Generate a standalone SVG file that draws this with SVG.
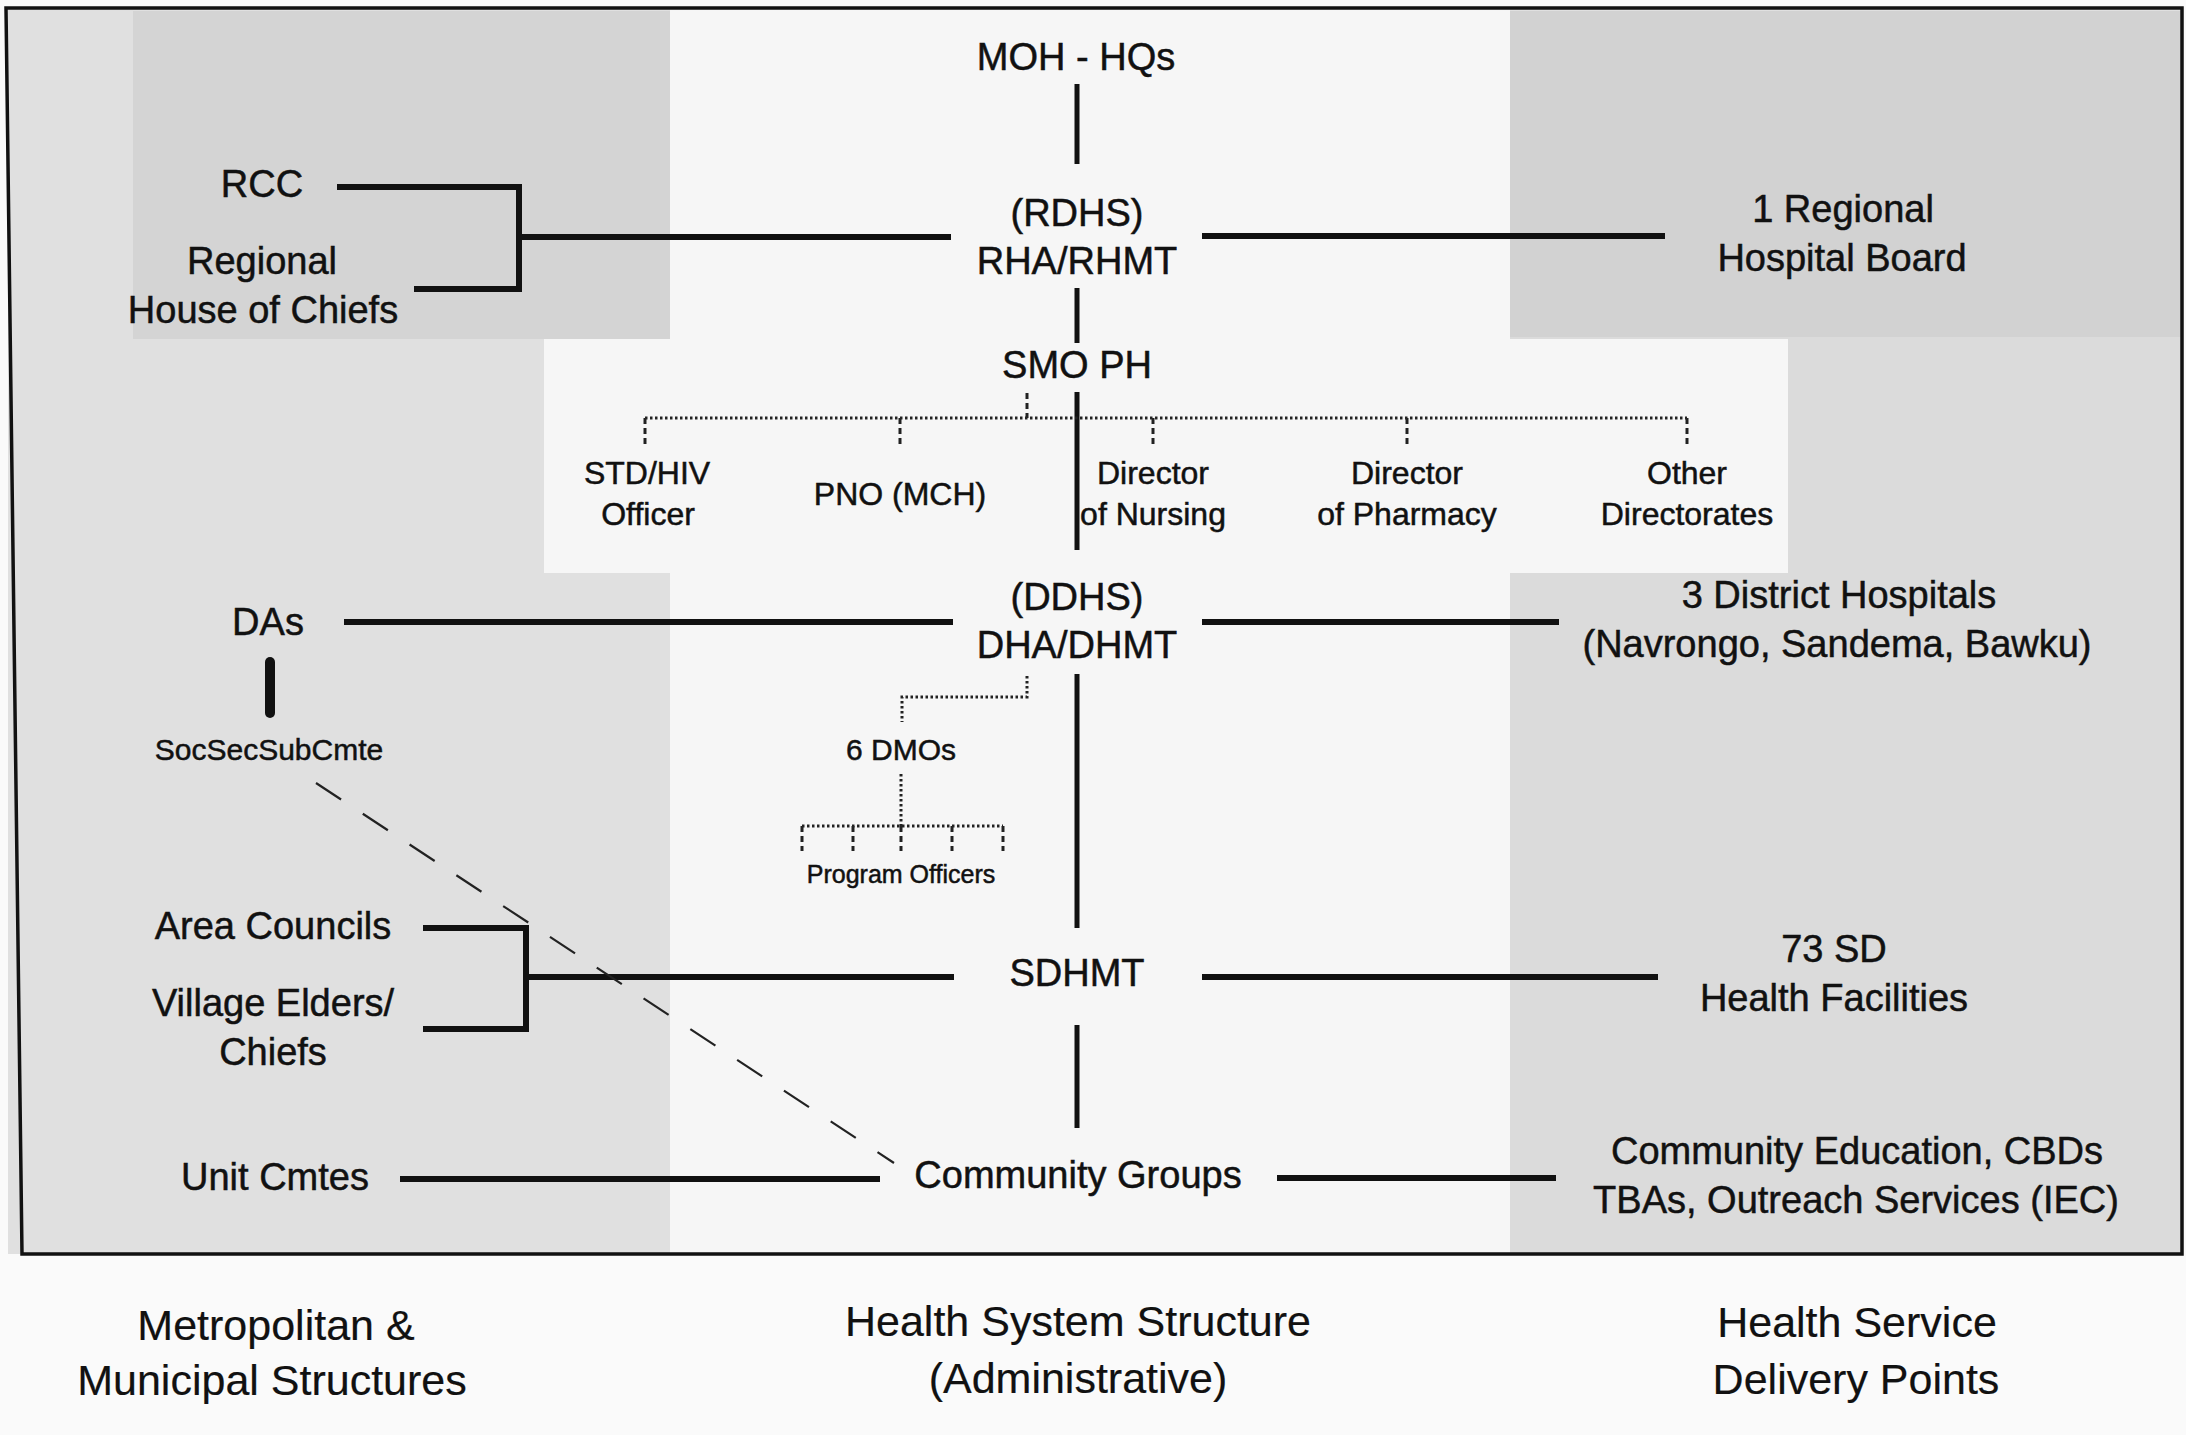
<svg xmlns="http://www.w3.org/2000/svg" width="2186" height="1435" viewBox="0 0 2186 1435">
<style>
  text{font-family:"Liberation Sans",Arial,Helvetica,sans-serif;fill:#111;stroke:#111;stroke-width:0.5;text-anchor:middle}
  .l{font-size:38px}
  .m{font-size:32px}
  .s{font-size:30px}
  .xs{font-size:25px}
  .f{font-size:43px;stroke-width:0.2}
  .thick{stroke:#111;stroke-width:6;fill:none;stroke-linecap:butt}
  .spine{stroke:#111;stroke-width:5;fill:none}
  .dot{stroke:#222;stroke-width:3;fill:none;stroke-dasharray:2.5 2.5}
  .dash{stroke:#222;stroke-width:3;fill:none;stroke-dasharray:6 4}
  .diag{stroke:#222;stroke-width:2.2;fill:none;stroke-dasharray:30 26}
</style>
<g id="background">
  <rect x="0" y="0" width="2186" height="1435" fill="#fafafa"/>
  <rect x="8" y="8" width="2174" height="1246" fill="#e0e0e0"/>
  <rect x="133" y="11" width="537" height="328" fill="#d4d4d4"/>
  <rect x="1510" y="11" width="672" height="326" fill="#d2d2d2"/>
  <rect x="1510" y="337" width="672" height="917" fill="#dbdbdb"/>
  <rect x="670" y="8" width="840" height="1246" fill="#f6f6f6"/>
  <rect x="544" y="339" width="1244" height="234" fill="#f6f6f6"/>
</g>
<g id="frame">
  <path d="M6 8 L2182 8 L2182 1254 L22 1254 Z" fill="none" stroke="#111" stroke-width="3.5"/>
</g>
<g id="connectors">
  <line class="spine" x1="1077" y1="84" x2="1077" y2="164"/>
  <line class="spine" x1="1077" y1="288" x2="1077" y2="343"/>
  <line class="spine" x1="1077" y1="392" x2="1077" y2="550"/>
  <line class="spine" x1="1077" y1="674" x2="1077" y2="928"/>
  <line class="spine" x1="1077" y1="1025" x2="1077" y2="1128"/>
  <polyline class="thick" points="337,187 519,187 519,289 414,289"/>
  <line class="thick" x1="519" y1="237" x2="951" y2="237"/>
  <line class="thick" x1="1202" y1="236" x2="1665" y2="236"/>
  <line class="dash" x1="1027" y1="393" x2="1027" y2="418"/>
  <line class="dot" x1="645" y1="418" x2="1687" y2="418"/>
  <line class="dash" x1="645" y1="418" x2="645" y2="444"/>
  <line class="dash" x1="900" y1="418" x2="900" y2="444"/>
  <line class="dash" x1="1153" y1="418" x2="1153" y2="444"/>
  <line class="dash" x1="1407" y1="418" x2="1407" y2="444"/>
  <line class="dash" x1="1687" y1="418" x2="1687" y2="444"/>
  <line class="thick" x1="344" y1="622" x2="953" y2="622"/>
  <line class="thick" x1="1202" y1="622" x2="1559" y2="622"/>
  <line x1="270" y1="662" x2="270" y2="713" stroke="#111" stroke-width="10" stroke-linecap="round"/>
  <polyline class="dot" points="1027,676 1027,697 902,697 902,722"/>
  <line class="dot" x1="901" y1="774" x2="901" y2="826"/>
  <line class="dot" x1="802" y1="826" x2="1003" y2="826"/>
  <line class="dash" x1="802" y1="826" x2="802" y2="851"/>
  <line class="dash" x1="853" y1="826" x2="853" y2="851"/>
  <line class="dash" x1="901" y1="826" x2="901" y2="851"/>
  <line class="dash" x1="952" y1="826" x2="952" y2="851"/>
  <line class="dash" x1="1003" y1="826" x2="1003" y2="851"/>
  <polyline class="thick" points="423,928 526,928 526,1029 423,1029"/>
  <line class="thick" x1="526" y1="977" x2="954" y2="977"/>
  <line class="thick" x1="1202" y1="977" x2="1658" y2="977"/>
  <line class="thick" x1="400" y1="1179" x2="880" y2="1179"/>
  <line class="thick" x1="1277" y1="1178" x2="1556" y2="1178"/>
  <line class="diag" x1="316" y1="783" x2="894" y2="1163"/>
</g>
<g id="n-moh"><text class="l" x="1076" y="70">MOH - HQs</text></g>
<g id="n-rdhs"><text class="l" x="1077" y="226">(RDHS)</text><text class="l" x="1077" y="274">RHA/RHMT</text></g>
<g id="n-smoph"><text class="l" x="1077" y="378">SMO PH</text></g>
<g id="n-std"><text class="m" x="647" y="484">STD/HIV</text><text class="m" x="648" y="525">Officer</text></g>
<g id="n-pno"><text class="m" x="900" y="505">PNO (MCH)</text></g>
<g id="n-nursing"><text class="m" x="1153" y="484">Director</text><text class="m" x="1153" y="525">of Nursing</text></g>
<g id="n-pharmacy"><text class="m" x="1407" y="484">Director</text><text class="m" x="1407" y="525">of Pharmacy</text></g>
<g id="n-other"><text class="m" x="1687" y="484">Other</text><text class="m" x="1687" y="525">Directorates</text></g>
<g id="n-rcc"><text class="l" x="262" y="197">RCC</text></g>
<g id="n-rhc"><text class="l" x="262" y="274">Regional</text><text class="l" x="263" y="323">House of Chiefs</text></g>
<g id="n-rhb"><text class="l" x="1843" y="222">1 Regional</text><text class="l" x="1842" y="271">Hospital Board</text></g>
<g id="n-das"><text class="l" x="268" y="635">DAs</text></g>
<g id="n-ddhs"><text class="l" x="1077" y="610">(DDHS)</text><text class="l" x="1077" y="658">DHA/DHMT</text></g>
<g id="n-dh"><text class="l" x="1839" y="608">3 District Hospitals</text><text class="l" x="1837" y="657">(Navrongo, Sandema, Bawku)</text></g>
<g id="n-socsec"><text class="s" x="269" y="760">SocSecSubCmte</text></g>
<g id="n-dmos"><text class="s" x="901" y="760">6 DMOs</text></g>
<g id="n-po"><text class="xs" x="901" y="883">Program Officers</text></g>
<g id="n-area"><text class="l" x="273" y="939">Area Councils</text></g>
<g id="n-village"><text class="l" x="273" y="1016">Village Elders/</text><text class="l" x="273" y="1065">Chiefs</text></g>
<g id="n-sdhmt"><text class="l" x="1077" y="986">SDHMT</text></g>
<g id="n-sdhf"><text class="l" x="1834" y="962">73 SD</text><text class="l" x="1834" y="1011">Health Facilities</text></g>
<g id="n-unit"><text class="l" x="275" y="1190">Unit Cmtes</text></g>
<g id="n-cg"><text class="l" x="1078" y="1188">Community Groups</text></g>
<g id="n-ce"><text class="l" x="1857" y="1164">Community Education, CBDs</text><text class="l" x="1856" y="1213">TBAs, Outreach Services (IEC)</text></g>
<g id="h-metro"><text class="f" x="276" y="1340">Metropolitan &amp;</text><text class="f" x="272" y="1395">Municipal Structures</text></g>
<g id="h-health"><text class="f" x="1078" y="1336">Health System Structure</text><text class="f" x="1078" y="1393">(Administrative)</text></g>
<g id="h-delivery"><text class="f" x="1857" y="1337">Health Service</text><text class="f" x="1856" y="1394">Delivery Points</text></g>
</svg>
